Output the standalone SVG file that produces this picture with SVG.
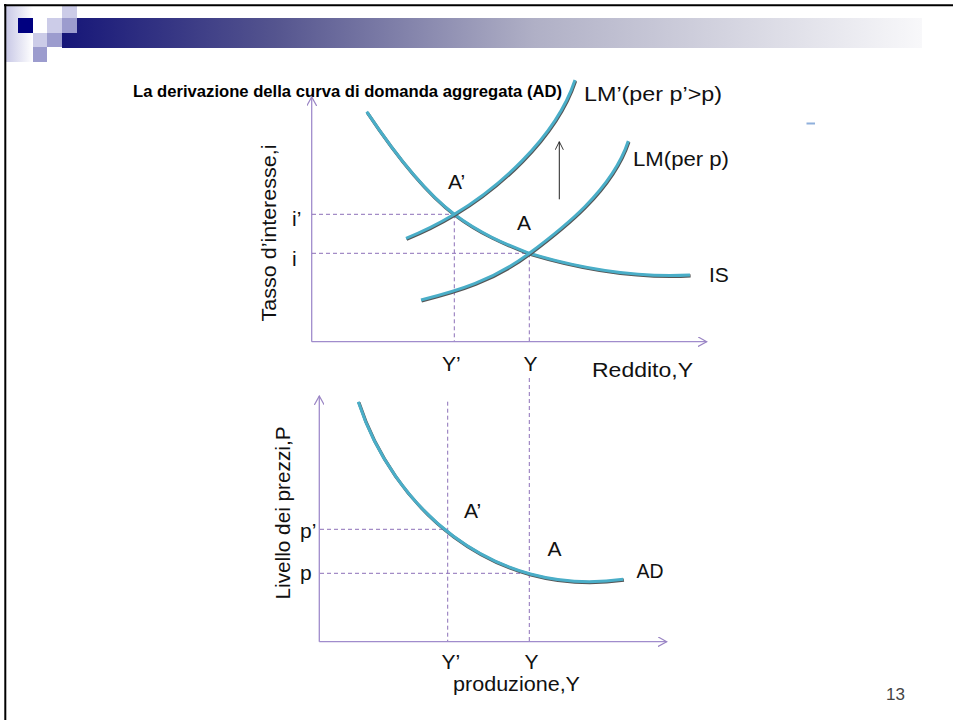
<svg xmlns="http://www.w3.org/2000/svg" width="953" height="720" viewBox="0 0 953 720">
<defs>
<linearGradient id="barGrad" x1="0" y1="0" x2="1" y2="0">
<stop offset="0" stop-color="#161678"/>
<stop offset="0.25" stop-color="#55558f"/>
<stop offset="0.55" stop-color="#b0b0c6"/>
<stop offset="1" stop-color="#f8f8fa"/>
</linearGradient>
<linearGradient id="leftGrad" x1="0" y1="0" x2="1" y2="0">
<stop offset="0" stop-color="#c8c8e6"/>
<stop offset="1" stop-color="#ffffff"/>
</linearGradient>
<marker id="openArrow" viewBox="0 0 10 10" refX="9" refY="5" markerWidth="10" markerHeight="10" markerUnits="userSpaceOnUse" orient="auto">
<path d="M0,0 L9,5 L0,10" fill="none" stroke="#9a85c4" stroke-width="1.2"/>
</marker>
<marker id="blackArrow" viewBox="0 0 10 10" refX="9" refY="5" markerWidth="9" markerHeight="9" markerUnits="userSpaceOnUse" orient="auto">
<path d="M0,0.5 L9,5 L0,9.5" fill="none" stroke="#222" stroke-width="1"/>
</marker>
</defs>
<style>
.lbl{font-family:"Liberation Sans",Arial,sans-serif;font-size:21px;fill:#111}
.title{font-family:"Liberation Sans",Arial,sans-serif;font-size:16.8px;font-weight:bold;fill:#000}
.axis{stroke:#a08ccc;stroke-width:1.3;fill:none}
.dash{stroke:#8c70b8;stroke-width:1;stroke-dasharray:4 3;fill:none}
.shadow{stroke:#555;stroke-width:3.2;fill:none;stroke-linecap:butt}
.curve{stroke:#4aaec8;stroke-width:3;fill:none;stroke-linecap:butt}
.sq1{fill:#ccccE8}
.sq2{fill:#9c9cce}
</style>
<rect width="953" height="720" fill="#ffffff"/>
<g id="header">
<rect x="6" y="6" width="27" height="56" fill="url(#leftGrad)"/>
<rect x="62" y="18" width="860" height="30" fill="url(#barGrad)"/>
<rect x="18" y="18" width="15" height="15" fill="#000080"/>
<rect class="sq1" x="47" y="18" width="15" height="15"/>
<rect class="sq1" x="62" y="6" width="15" height="12"/>
<rect class="sq2" x="62" y="18" width="15" height="15"/>
<rect class="sq1" x="33" y="33" width="14" height="14"/>
<rect class="sq2" x="47" y="33" width="15" height="14"/>
<rect class="sq2" x="33" y="47" width="14" height="15"/>
<line x1="4" y1="5.3" x2="953" y2="5.3" stroke="#000" stroke-width="2"/>
<line x1="5.3" y1="4" x2="5.3" y2="720" stroke="#000" stroke-width="2"/>
<rect x="806.5" y="122.5" width="8.5" height="2" fill="#8fb0dc"/>
</g>
<g id="title">
<text class="title" x="133" y="97" textLength="429" lengthAdjust="spacingAndGlyphs">La derivazione della curva di domanda aggregata (AD)</text>
</g>
<g id="connectors">
<line class="axis" x1="311.7" y1="341.7" x2="311.7" y2="97" marker-end="url(#openArrow)"/>
<line class="axis" x1="311.7" y1="341.7" x2="706.7" y2="341.7" marker-end="url(#openArrow)"/>
<line class="dash" x1="312" y1="214.3" x2="454.3" y2="214.3"/>
<line class="dash" x1="312" y1="253.3" x2="529.3" y2="253.3"/>
<line class="dash" x1="454.3" y1="214.3" x2="454.3" y2="341"/>
<line class="dash" x1="529.3" y1="253.3" x2="529.3" y2="341"/>
<line x1="559.3" y1="199.3" x2="559.3" y2="141.7" stroke="#222" stroke-width="1" marker-end="url(#blackArrow)"/>
<line class="axis" x1="319.3" y1="641.7" x2="319.3" y2="396" marker-end="url(#openArrow)"/>
<line class="axis" x1="319.3" y1="641.7" x2="666.7" y2="641.7" marker-end="url(#openArrow)"/>
<line class="dash" x1="447.7" y1="401.7" x2="447.7" y2="641"/>
<line class="dash" x1="529.3" y1="378" x2="529.3" y2="641"/>
<line class="dash" x1="320" y1="529.3" x2="447.7" y2="529.3"/>
<line class="dash" x1="320" y1="573.3" x2="529.3" y2="573.3"/>
</g>
<g id="IS">
<path class="shadow" transform="translate(0.6,0.9)" d="M366.7,111.7 C395.9,155.5 425.1,192.4 454.3,214.3 C479.3,233.1 504.3,243.8 529.3,253.3 C582.9,269.4 636.4,277.7 690,275"/>
<path class="curve" d="M366.7,111.7 C395.9,155.5 425.1,192.4 454.3,214.3 C479.3,233.1 504.3,243.8 529.3,253.3 C582.9,269.4 636.4,277.7 690,275"/>
<text class="lbl" x="709" y="282">IS</text>
</g>
<g id="LMprime">
<path class="shadow" transform="translate(0.6,0.9)" d="M406,238.3 C422.1,231.9 438.2,224 454.3,214.3 C494.5,190.2 555,140 575,80"/>
<path class="curve" d="M406,238.3 C422.1,231.9 438.2,224 454.3,214.3 C494.5,190.2 555,140 575,80"/>
<text class="lbl" x="584" y="101" textLength="138" lengthAdjust="spacingAndGlyphs">LM’(per p’&gt;p)</text>
</g>
<g id="LM">
<path class="shadow" transform="translate(0.6,0.9)" d="M421,300 C457.1,291 493.2,280.4 529.3,253.3 C562.3,228.6 611.8,190.5 628.3,141"/>
<path class="curve" d="M421,300 C457.1,291 493.2,280.4 529.3,253.3 C562.3,228.6 611.8,190.5 628.3,141"/>
<text class="lbl" x="633" y="166" textLength="96" lengthAdjust="spacingAndGlyphs">LM(per p)</text>
</g>
<g id="AD">
<path class="shadow" transform="translate(0.6,0.9)" d="M358.3,401.7 C392,505 490,598 623.3,579.3"/>
<path class="curve" d="M358.3,401.7 C392,505 490,598 623.3,579.3"/>
<text class="lbl" x="636.5" y="578" textLength="27" lengthAdjust="spacingAndGlyphs">AD</text>
</g>
<g id="labels-top">
<text class="lbl" x="448" y="189">A’</text>
<text class="lbl" x="517" y="230">A</text>
<text class="lbl" x="292" y="226">i’</text>
<text class="lbl" x="292" y="266">i</text>
<text class="lbl" x="442" y="371">Y’</text>
<text class="lbl" x="523.5" y="371">Y</text>
<text class="lbl" x="592" y="377" textLength="101" lengthAdjust="spacingAndGlyphs">Reddito,Y</text>
<text class="lbl" transform="translate(276,233) rotate(-90)" text-anchor="middle" textLength="177" lengthAdjust="spacingAndGlyphs">Tasso d’interesse,i</text>
</g>
<g id="labels-bottom">
<text class="lbl" x="464" y="518">A’</text>
<text class="lbl" x="547.5" y="556">A</text>
<text class="lbl" x="300" y="538">p’</text>
<text class="lbl" x="300" y="580">p</text>
<text class="lbl" x="441.5" y="669">Y’</text>
<text class="lbl" x="524.5" y="669">Y</text>
<text class="lbl" x="453" y="691" textLength="127" lengthAdjust="spacingAndGlyphs">produzione,Y</text>
<text class="lbl" transform="translate(290,513) rotate(-90)" text-anchor="middle" textLength="173" lengthAdjust="spacingAndGlyphs">Livello dei prezzi,P</text>
</g>
<g id="page">
<text x="886" y="700" font-family="Liberation Sans, Arial, sans-serif" font-size="17" fill="#444">13</text>
</g>
</svg>
